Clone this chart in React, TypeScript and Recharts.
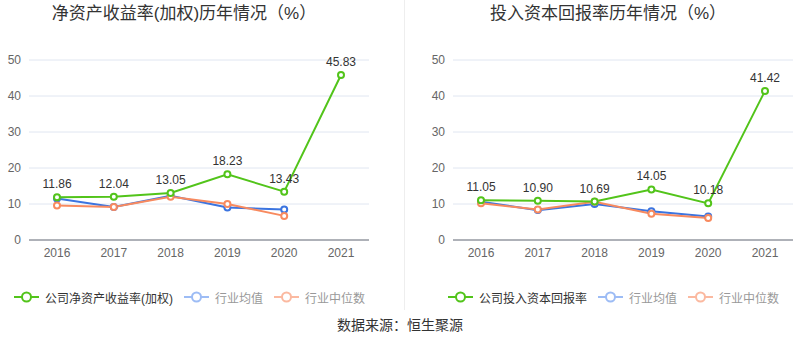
import React from 'react'
import { LineChart, Line, XAxis, YAxis, CartesianGrid, LabelList } from 'recharts'

const years = ['2016', '2017', '2018', '2019', '2020', '2021']
const roeCompany = [11.86, 12.04, 13.05, 18.23, 13.43, 45.83]
const roeAvg = [11.5, 9.2, 12.3, 9.0, 8.5, null]
const roeMedian = [9.6, 9.2, 12.0, 10.0, 6.7, null]
const roicCompany = [11.05, 10.9, 10.69, 14.05, 10.18, 41.42]
const roicAvg = [10.6, 8.3, 10.0, 8.0, 6.5, null]
const roicMedian = [10.2, 8.5, 10.6, 7.3, 6.1, null]
const yTicks = [0, 10, 20, 30, 40, 50]

const GREEN = '#52c41a'
const BLUE = '#3b74e0'
const ORANGE = '#f88a5f'
const FONT = 'Arial, "Liberation Sans", "Noto Sans CJK SC", sans-serif'

const build = (a: (number | null)[], b: (number | null)[], c: (number | null)[]) =>
  years.map((y, i) => ({ year: y, company: a[i], avg: b[i], median: c[i] }))

const fmt2 = (v: any) => (typeof v === 'number' ? v.toFixed(2) : v)

function Chart({ data, left, yWidth, right }: { data: any[]; left: number; yWidth: number; right: number }) {
  return (
    <div style={{ position: 'absolute', left, top: 0 }}>
      <LineChart width={400} height={262} data={data} margin={{ top: 60, right, left: 0, bottom: 0 }}>
        <CartesianGrid vertical={false} stroke="#e0e6f1" />
        <XAxis
          dataKey="year"
          axisLine={{ stroke: '#6e7079' }}
          tickLine={false}
          tick={{ fill: '#666', fontSize: 12 }}
          height={22}
          tickMargin={2}
          padding={{ left: 28, right: 28 }}
        />
        <YAxis
          domain={[0, 50]}
          ticks={yTicks}
          axisLine={false}
          tickLine={false}
          width={yWidth}
          tick={{ fill: '#666', fontSize: 12 }}
        />
        <Line dataKey="avg" stroke={BLUE} strokeWidth={2} dot={{ r: 3, fill: '#fff', strokeWidth: 2 }} isAnimationActive={false} />
        <Line dataKey="median" stroke={ORANGE} strokeWidth={2} dot={{ r: 3, fill: '#fff', strokeWidth: 2 }} isAnimationActive={false} />
        <Line dataKey="company" stroke={GREEN} strokeWidth={2} dot={{ r: 3, fill: '#fff', strokeWidth: 2 }} isAnimationActive={false}>
          <LabelList dataKey="company" position="top" offset={9} fill="#333" fontSize={12} formatter={fmt2} />
        </Line>
      </LineChart>
    </div>
  )
}

function Icon({ color }: { color: string }) {
  return (
    <svg width={25} height={12}>
      <line x1={0} y1={6} x2={25} y2={6} stroke={color} strokeWidth={2} />
      <circle cx={12.5} cy={6} r={4.5} fill="#fff" stroke={color} strokeWidth={2} />
    </svg>
  )
}

function Legend({ left, label }: { left: number; label: string }) {
  const items = [
    { color: GREEN, text: label, textColor: '#333' },
    { color: '#9dbcf5', text: '行业均值', textColor: '#999' },
    { color: '#fbb9a0', text: '行业中位数', textColor: '#999' },
  ]
  return (
    <div style={{ position: 'absolute', left, top: 289, height: 16, display: 'flex', alignItems: 'center', fontSize: 12 }}>
      {items.map((it) => (
        <div key={it.text} style={{ display: 'flex', alignItems: 'center', marginRight: 11 }}>
          <Icon color={it.color} />
          <span style={{ marginLeft: 6, color: it.textColor, whiteSpace: 'nowrap' }}>{it.text}</span>
        </div>
      ))}
    </div>
  )
}

export default function App() {
  return (
    <div style={{ position: 'absolute', left: 0, top: 0, width: 800, height: 358, background: '#fff', fontFamily: FONT, overflow: 'hidden' }}>
      <div style={{ position: 'absolute', left: 0, top: 0, width: 368, textAlign: 'center', fontSize: 17, lineHeight: '28px', color: '#333' }}>
        净资产收益率(加权)历年情况（%）
      </div>
      <div style={{ position: 'absolute', left: 416, top: 0, width: 384, textAlign: 'center', fontSize: 17, lineHeight: '28px', color: '#333' }}>
        投入资本回报率历年情况（%）
      </div>
      <div style={{ position: 'absolute', left: 404, top: 0, width: 1, height: 310, background: '#eee' }} />
      <Chart data={build(roeCompany, roeAvg, roeMedian)} left={0} yWidth={29} right={31} />
      <Chart data={build(roicCompany, roicAvg, roicMedian)} left={400} yWidth={53} right={7} />
      <Legend left={14} label="公司净资产收益率(加权)" />
      <Legend left={448} label="公司投入资本回报率" />
      <div style={{ position: 'absolute', left: 0, top: 316, width: 800, textAlign: 'center', fontSize: 14, lineHeight: '18px', color: '#333' }}>
        数据来源：恒生聚源
      </div>
    </div>
  )
}
